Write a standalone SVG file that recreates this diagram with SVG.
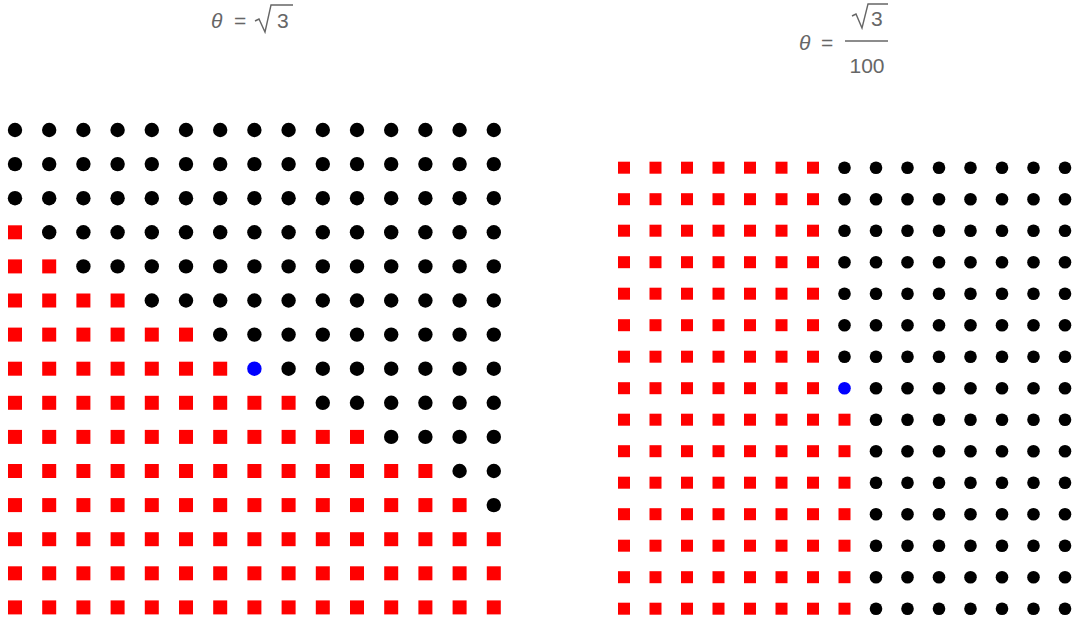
<svg xmlns="http://www.w3.org/2000/svg" xmlns:xlink="http://www.w3.org/1999/xlink" width="1076" height="626" viewBox="0 0 1076 626">
<style>
.t{font-family:"Liberation Sans",Arial,sans-serif;font-size:21px;fill:#666}
.i{font-style:italic}
.rad{fill:none;stroke:#666;stroke-width:1.4;stroke-linejoin:miter}
.k{fill:#000}
.r{fill:#f00}
.u{fill:#00f}
</style>
<defs>
<circle id="c1" r="7.2"/>
<rect id="s1" x="-7" y="-7" width="14" height="14"/>
<circle id="c2" r="6.3"/>
<rect id="s2" x="-6" y="-6" width="12" height="12"/>
</defs>
<rect width="1076" height="626" fill="#fff"/>
<g id="title-left">
<text class="t i" x="211" y="28">θ</text>
<text class="t" x="234" y="28">=</text>
<path class="rad" d="M255,21 L259,19 L265,32 L271,5 L293,5"/>
<text class="t" x="277" y="28">3</text>
</g>
<g id="title-right">
<text class="t i" x="799" y="50">θ</text>
<text class="t" x="821" y="50">=</text>
<path class="rad" d="M852,16 L856,14 L862,28 L868,4 L888,4"/>
<text class="t" x="871" y="26">3</text>
<line x1="845" y1="41" x2="888" y2="41" stroke="#666" stroke-width="1.3"/>
<text class="t" x="867" y="73" text-anchor="middle">100</text>
</g>
<g id="grid-left">
<g transform="translate(0,130)"><g class="k"><use href="#c1" x="15"/><use href="#c1" x="49.2"/><use href="#c1" x="83.4"/><use href="#c1" x="117.6"/><use href="#c1" x="151.8"/><use href="#c1" x="186"/><use href="#c1" x="220.2"/><use href="#c1" x="254.4"/><use href="#c1" x="288.6"/><use href="#c1" x="322.8"/><use href="#c1" x="357"/><use href="#c1" x="391.2"/><use href="#c1" x="425.4"/><use href="#c1" x="459.6"/><use href="#c1" x="493.8"/></g></g>
<g transform="translate(0,164.1)"><g class="k"><use href="#c1" x="15"/><use href="#c1" x="49.2"/><use href="#c1" x="83.4"/><use href="#c1" x="117.6"/><use href="#c1" x="151.8"/><use href="#c1" x="186"/><use href="#c1" x="220.2"/><use href="#c1" x="254.4"/><use href="#c1" x="288.6"/><use href="#c1" x="322.8"/><use href="#c1" x="357"/><use href="#c1" x="391.2"/><use href="#c1" x="425.4"/><use href="#c1" x="459.6"/><use href="#c1" x="493.8"/></g></g>
<g transform="translate(0,198.2)"><g class="k"><use href="#c1" x="15"/><use href="#c1" x="49.2"/><use href="#c1" x="83.4"/><use href="#c1" x="117.6"/><use href="#c1" x="151.8"/><use href="#c1" x="186"/><use href="#c1" x="220.2"/><use href="#c1" x="254.4"/><use href="#c1" x="288.6"/><use href="#c1" x="322.8"/><use href="#c1" x="357"/><use href="#c1" x="391.2"/><use href="#c1" x="425.4"/><use href="#c1" x="459.6"/><use href="#c1" x="493.8"/></g></g>
<g transform="translate(0,232.3)"><g class="r"><use href="#s1" x="15"/></g><g class="k"><use href="#c1" x="49.2"/><use href="#c1" x="83.4"/><use href="#c1" x="117.6"/><use href="#c1" x="151.8"/><use href="#c1" x="186"/><use href="#c1" x="220.2"/><use href="#c1" x="254.4"/><use href="#c1" x="288.6"/><use href="#c1" x="322.8"/><use href="#c1" x="357"/><use href="#c1" x="391.2"/><use href="#c1" x="425.4"/><use href="#c1" x="459.6"/><use href="#c1" x="493.8"/></g></g>
<g transform="translate(0,266.4)"><g class="r"><use href="#s1" x="15"/><use href="#s1" x="49.2"/></g><g class="k"><use href="#c1" x="83.4"/><use href="#c1" x="117.6"/><use href="#c1" x="151.8"/><use href="#c1" x="186"/><use href="#c1" x="220.2"/><use href="#c1" x="254.4"/><use href="#c1" x="288.6"/><use href="#c1" x="322.8"/><use href="#c1" x="357"/><use href="#c1" x="391.2"/><use href="#c1" x="425.4"/><use href="#c1" x="459.6"/><use href="#c1" x="493.8"/></g></g>
<g transform="translate(0,300.5)"><g class="r"><use href="#s1" x="15"/><use href="#s1" x="49.2"/><use href="#s1" x="83.4"/><use href="#s1" x="117.6"/></g><g class="k"><use href="#c1" x="151.8"/><use href="#c1" x="186"/><use href="#c1" x="220.2"/><use href="#c1" x="254.4"/><use href="#c1" x="288.6"/><use href="#c1" x="322.8"/><use href="#c1" x="357"/><use href="#c1" x="391.2"/><use href="#c1" x="425.4"/><use href="#c1" x="459.6"/><use href="#c1" x="493.8"/></g></g>
<g transform="translate(0,334.6)"><g class="r"><use href="#s1" x="15"/><use href="#s1" x="49.2"/><use href="#s1" x="83.4"/><use href="#s1" x="117.6"/><use href="#s1" x="151.8"/><use href="#s1" x="186"/></g><g class="k"><use href="#c1" x="220.2"/><use href="#c1" x="254.4"/><use href="#c1" x="288.6"/><use href="#c1" x="322.8"/><use href="#c1" x="357"/><use href="#c1" x="391.2"/><use href="#c1" x="425.4"/><use href="#c1" x="459.6"/><use href="#c1" x="493.8"/></g></g>
<g transform="translate(0,368.7)"><g class="r"><use href="#s1" x="15"/><use href="#s1" x="49.2"/><use href="#s1" x="83.4"/><use href="#s1" x="117.6"/><use href="#s1" x="151.8"/><use href="#s1" x="186"/><use href="#s1" x="220.2"/></g><use id="center-left" class="u" href="#c1" x="254.4"/><g class="k"><use href="#c1" x="288.6"/><use href="#c1" x="322.8"/><use href="#c1" x="357"/><use href="#c1" x="391.2"/><use href="#c1" x="425.4"/><use href="#c1" x="459.6"/><use href="#c1" x="493.8"/></g></g>
<g transform="translate(0,402.8)"><g class="r"><use href="#s1" x="15"/><use href="#s1" x="49.2"/><use href="#s1" x="83.4"/><use href="#s1" x="117.6"/><use href="#s1" x="151.8"/><use href="#s1" x="186"/><use href="#s1" x="220.2"/><use href="#s1" x="254.4"/><use href="#s1" x="288.6"/></g><g class="k"><use href="#c1" x="322.8"/><use href="#c1" x="357"/><use href="#c1" x="391.2"/><use href="#c1" x="425.4"/><use href="#c1" x="459.6"/><use href="#c1" x="493.8"/></g></g>
<g transform="translate(0,436.9)"><g class="r"><use href="#s1" x="15"/><use href="#s1" x="49.2"/><use href="#s1" x="83.4"/><use href="#s1" x="117.6"/><use href="#s1" x="151.8"/><use href="#s1" x="186"/><use href="#s1" x="220.2"/><use href="#s1" x="254.4"/><use href="#s1" x="288.6"/><use href="#s1" x="322.8"/><use href="#s1" x="357"/></g><g class="k"><use href="#c1" x="391.2"/><use href="#c1" x="425.4"/><use href="#c1" x="459.6"/><use href="#c1" x="493.8"/></g></g>
<g transform="translate(0,471)"><g class="r"><use href="#s1" x="15"/><use href="#s1" x="49.2"/><use href="#s1" x="83.4"/><use href="#s1" x="117.6"/><use href="#s1" x="151.8"/><use href="#s1" x="186"/><use href="#s1" x="220.2"/><use href="#s1" x="254.4"/><use href="#s1" x="288.6"/><use href="#s1" x="322.8"/><use href="#s1" x="357"/><use href="#s1" x="391.2"/><use href="#s1" x="425.4"/></g><g class="k"><use href="#c1" x="459.6"/><use href="#c1" x="493.8"/></g></g>
<g transform="translate(0,505.1)"><g class="r"><use href="#s1" x="15"/><use href="#s1" x="49.2"/><use href="#s1" x="83.4"/><use href="#s1" x="117.6"/><use href="#s1" x="151.8"/><use href="#s1" x="186"/><use href="#s1" x="220.2"/><use href="#s1" x="254.4"/><use href="#s1" x="288.6"/><use href="#s1" x="322.8"/><use href="#s1" x="357"/><use href="#s1" x="391.2"/><use href="#s1" x="425.4"/><use href="#s1" x="459.6"/></g><g class="k"><use href="#c1" x="493.8"/></g></g>
<g transform="translate(0,539.2)" class="r"><use href="#s1" x="15"/><use href="#s1" x="49.2"/><use href="#s1" x="83.4"/><use href="#s1" x="117.6"/><use href="#s1" x="151.8"/><use href="#s1" x="186"/><use href="#s1" x="220.2"/><use href="#s1" x="254.4"/><use href="#s1" x="288.6"/><use href="#s1" x="322.8"/><use href="#s1" x="357"/><use href="#s1" x="391.2"/><use href="#s1" x="425.4"/><use href="#s1" x="459.6"/><use href="#s1" x="493.8"/></g>
<g transform="translate(0,573.3)" class="r"><use href="#s1" x="15"/><use href="#s1" x="49.2"/><use href="#s1" x="83.4"/><use href="#s1" x="117.6"/><use href="#s1" x="151.8"/><use href="#s1" x="186"/><use href="#s1" x="220.2"/><use href="#s1" x="254.4"/><use href="#s1" x="288.6"/><use href="#s1" x="322.8"/><use href="#s1" x="357"/><use href="#s1" x="391.2"/><use href="#s1" x="425.4"/><use href="#s1" x="459.6"/><use href="#s1" x="493.8"/></g>
<g transform="translate(0,607.4)" class="r"><use href="#s1" x="15"/><use href="#s1" x="49.2"/><use href="#s1" x="83.4"/><use href="#s1" x="117.6"/><use href="#s1" x="151.8"/><use href="#s1" x="186"/><use href="#s1" x="220.2"/><use href="#s1" x="254.4"/><use href="#s1" x="288.6"/><use href="#s1" x="322.8"/><use href="#s1" x="357"/><use href="#s1" x="391.2"/><use href="#s1" x="425.4"/><use href="#s1" x="459.6"/><use href="#s1" x="493.8"/></g>
</g>
<g id="grid-right">
<g id="right-upper">
<g transform="translate(0,167.7)"><g class="r"><use href="#s2" x="624"/><use href="#s2" x="655.5"/><use href="#s2" x="687"/><use href="#s2" x="718.5"/><use href="#s2" x="750"/><use href="#s2" x="781.5"/><use href="#s2" x="813"/></g><g class="k"><use href="#c2" x="844.5"/><use href="#c2" x="876"/><use href="#c2" x="907.5"/><use href="#c2" x="939"/><use href="#c2" x="970.5"/><use href="#c2" x="1002"/><use href="#c2" x="1033.5"/><use href="#c2" x="1065"/></g></g>
<g transform="translate(0,199.2)"><g class="r"><use href="#s2" x="624"/><use href="#s2" x="655.5"/><use href="#s2" x="687"/><use href="#s2" x="718.5"/><use href="#s2" x="750"/><use href="#s2" x="781.5"/><use href="#s2" x="813"/></g><g class="k"><use href="#c2" x="844.5"/><use href="#c2" x="876"/><use href="#c2" x="907.5"/><use href="#c2" x="939"/><use href="#c2" x="970.5"/><use href="#c2" x="1002"/><use href="#c2" x="1033.5"/><use href="#c2" x="1065"/></g></g>
<g transform="translate(0,230.7)"><g class="r"><use href="#s2" x="624"/><use href="#s2" x="655.5"/><use href="#s2" x="687"/><use href="#s2" x="718.5"/><use href="#s2" x="750"/><use href="#s2" x="781.5"/><use href="#s2" x="813"/></g><g class="k"><use href="#c2" x="844.5"/><use href="#c2" x="876"/><use href="#c2" x="907.5"/><use href="#c2" x="939"/><use href="#c2" x="970.5"/><use href="#c2" x="1002"/><use href="#c2" x="1033.5"/><use href="#c2" x="1065"/></g></g>
<g transform="translate(0,262.2)"><g class="r"><use href="#s2" x="624"/><use href="#s2" x="655.5"/><use href="#s2" x="687"/><use href="#s2" x="718.5"/><use href="#s2" x="750"/><use href="#s2" x="781.5"/><use href="#s2" x="813"/></g><g class="k"><use href="#c2" x="844.5"/><use href="#c2" x="876"/><use href="#c2" x="907.5"/><use href="#c2" x="939"/><use href="#c2" x="970.5"/><use href="#c2" x="1002"/><use href="#c2" x="1033.5"/><use href="#c2" x="1065"/></g></g>
<g transform="translate(0,293.7)"><g class="r"><use href="#s2" x="624"/><use href="#s2" x="655.5"/><use href="#s2" x="687"/><use href="#s2" x="718.5"/><use href="#s2" x="750"/><use href="#s2" x="781.5"/><use href="#s2" x="813"/></g><g class="k"><use href="#c2" x="844.5"/><use href="#c2" x="876"/><use href="#c2" x="907.5"/><use href="#c2" x="939"/><use href="#c2" x="970.5"/><use href="#c2" x="1002"/><use href="#c2" x="1033.5"/><use href="#c2" x="1065"/></g></g>
<g transform="translate(0,325.2)"><g class="r"><use href="#s2" x="624"/><use href="#s2" x="655.5"/><use href="#s2" x="687"/><use href="#s2" x="718.5"/><use href="#s2" x="750"/><use href="#s2" x="781.5"/><use href="#s2" x="813"/></g><g class="k"><use href="#c2" x="844.5"/><use href="#c2" x="876"/><use href="#c2" x="907.5"/><use href="#c2" x="939"/><use href="#c2" x="970.5"/><use href="#c2" x="1002"/><use href="#c2" x="1033.5"/><use href="#c2" x="1065"/></g></g>
<g transform="translate(0,356.7)"><g class="r"><use href="#s2" x="624"/><use href="#s2" x="655.5"/><use href="#s2" x="687"/><use href="#s2" x="718.5"/><use href="#s2" x="750"/><use href="#s2" x="781.5"/><use href="#s2" x="813"/></g><g class="k"><use href="#c2" x="844.5"/><use href="#c2" x="876"/><use href="#c2" x="907.5"/><use href="#c2" x="939"/><use href="#c2" x="970.5"/><use href="#c2" x="1002"/><use href="#c2" x="1033.5"/><use href="#c2" x="1065"/></g></g>
</g>
<g transform="translate(0,388.2)"><g class="r"><use href="#s2" x="624"/><use href="#s2" x="655.5"/><use href="#s2" x="687"/><use href="#s2" x="718.5"/><use href="#s2" x="750"/><use href="#s2" x="781.5"/><use href="#s2" x="813"/></g><use id="center-right" class="u" href="#c2" x="844.5"/><g class="k"><use href="#c2" x="876"/><use href="#c2" x="907.5"/><use href="#c2" x="939"/><use href="#c2" x="970.5"/><use href="#c2" x="1002"/><use href="#c2" x="1033.5"/><use href="#c2" x="1065"/></g></g>
<g id="right-lower">
<g transform="translate(0,419.7)"><g class="r"><use href="#s2" x="624"/><use href="#s2" x="655.5"/><use href="#s2" x="687"/><use href="#s2" x="718.5"/><use href="#s2" x="750"/><use href="#s2" x="781.5"/><use href="#s2" x="813"/><use href="#s2" x="844.5"/></g><g class="k"><use href="#c2" x="876"/><use href="#c2" x="907.5"/><use href="#c2" x="939"/><use href="#c2" x="970.5"/><use href="#c2" x="1002"/><use href="#c2" x="1033.5"/><use href="#c2" x="1065"/></g></g>
<g transform="translate(0,451.2)"><g class="r"><use href="#s2" x="624"/><use href="#s2" x="655.5"/><use href="#s2" x="687"/><use href="#s2" x="718.5"/><use href="#s2" x="750"/><use href="#s2" x="781.5"/><use href="#s2" x="813"/><use href="#s2" x="844.5"/></g><g class="k"><use href="#c2" x="876"/><use href="#c2" x="907.5"/><use href="#c2" x="939"/><use href="#c2" x="970.5"/><use href="#c2" x="1002"/><use href="#c2" x="1033.5"/><use href="#c2" x="1065"/></g></g>
<g transform="translate(0,482.7)"><g class="r"><use href="#s2" x="624"/><use href="#s2" x="655.5"/><use href="#s2" x="687"/><use href="#s2" x="718.5"/><use href="#s2" x="750"/><use href="#s2" x="781.5"/><use href="#s2" x="813"/><use href="#s2" x="844.5"/></g><g class="k"><use href="#c2" x="876"/><use href="#c2" x="907.5"/><use href="#c2" x="939"/><use href="#c2" x="970.5"/><use href="#c2" x="1002"/><use href="#c2" x="1033.5"/><use href="#c2" x="1065"/></g></g>
<g transform="translate(0,514.2)"><g class="r"><use href="#s2" x="624"/><use href="#s2" x="655.5"/><use href="#s2" x="687"/><use href="#s2" x="718.5"/><use href="#s2" x="750"/><use href="#s2" x="781.5"/><use href="#s2" x="813"/><use href="#s2" x="844.5"/></g><g class="k"><use href="#c2" x="876"/><use href="#c2" x="907.5"/><use href="#c2" x="939"/><use href="#c2" x="970.5"/><use href="#c2" x="1002"/><use href="#c2" x="1033.5"/><use href="#c2" x="1065"/></g></g>
<g transform="translate(0,545.7)"><g class="r"><use href="#s2" x="624"/><use href="#s2" x="655.5"/><use href="#s2" x="687"/><use href="#s2" x="718.5"/><use href="#s2" x="750"/><use href="#s2" x="781.5"/><use href="#s2" x="813"/><use href="#s2" x="844.5"/></g><g class="k"><use href="#c2" x="876"/><use href="#c2" x="907.5"/><use href="#c2" x="939"/><use href="#c2" x="970.5"/><use href="#c2" x="1002"/><use href="#c2" x="1033.5"/><use href="#c2" x="1065"/></g></g>
<g transform="translate(0,577.2)"><g class="r"><use href="#s2" x="624"/><use href="#s2" x="655.5"/><use href="#s2" x="687"/><use href="#s2" x="718.5"/><use href="#s2" x="750"/><use href="#s2" x="781.5"/><use href="#s2" x="813"/><use href="#s2" x="844.5"/></g><g class="k"><use href="#c2" x="876"/><use href="#c2" x="907.5"/><use href="#c2" x="939"/><use href="#c2" x="970.5"/><use href="#c2" x="1002"/><use href="#c2" x="1033.5"/><use href="#c2" x="1065"/></g></g>
<g transform="translate(0,608.7)"><g class="r"><use href="#s2" x="624"/><use href="#s2" x="655.5"/><use href="#s2" x="687"/><use href="#s2" x="718.5"/><use href="#s2" x="750"/><use href="#s2" x="781.5"/><use href="#s2" x="813"/><use href="#s2" x="844.5"/></g><g class="k"><use href="#c2" x="876"/><use href="#c2" x="907.5"/><use href="#c2" x="939"/><use href="#c2" x="970.5"/><use href="#c2" x="1002"/><use href="#c2" x="1033.5"/><use href="#c2" x="1065"/></g></g>
</g>
</g>
</svg>
